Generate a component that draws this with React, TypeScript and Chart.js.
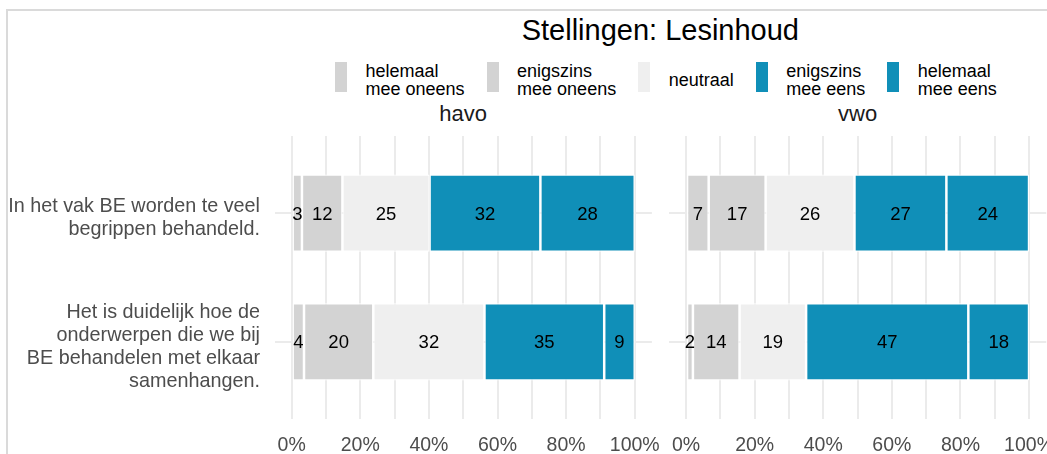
import React, { useEffect, useRef } from 'react';
import { Chart, registerables } from 'chart.js';

Chart.register(...registerables);

const FONT = "'Liberation Sans', Arial, Helvetica, sans-serif";

const chartTitle = 'Stellingen: Lesinhoud';
const facets = ['havo', 'vwo'];
const statements: string[][] = [
  ['In het vak BE worden te veel', 'begrippen behandeld.'],
  ['Het is duidelijk hoe de', 'onderwerpen die we bij', 'BE behandelen met elkaar', 'samenhangen.'],
];
const responseLevels: string[][] = [
  ['helemaal', 'mee oneens'],
  ['enigszins', 'mee oneens'],
  ['neutraal'],
  ['enigszins', 'mee eens'],
  ['helemaal', 'mee eens'],
];
const levelColors = ['#D3D3D3', '#D3D3D3', '#EFEFEF', '#108FB8', '#108FB8'];

// percentages per statement, in the order of responseLevels
const havoStatement1 = [3.0, 11.8, 25.4, 32.3, 27.5];
const havoStatement2 = [3.6, 20.2, 32.4, 34.9, 8.9];
const vwoStatement1 = [6.6, 16.6, 25.9, 26.8, 24.1];
const vwoStatement2 = [2.0, 13.6, 19.4, 47.3, 17.7];

const gridValues = [0, 10, 20, 30, 40, 50, 60, 70, 80, 90, 100];
const tickLabelValues = [0, 20, 40, 60, 80, 100];

const valueLabels = {
  id: 'valueLabels',
  afterDatasetsDraw(chart: any) {
    const ctx = chart.ctx;
    ctx.save();
    ctx.font = `18.5px ${FONT}`;
    ctx.fillStyle = '#000000';
    ctx.textAlign = 'center';
    ctx.textBaseline = 'middle';
    chart.data.datasets.forEach((ds: any, di: number) => {
      const meta = chart.getDatasetMeta(di);
      meta.data.forEach((el: any, i: number) => {
        const v = ds.data[i];
        const p = el.getProps(['x', 'base', 'y'], true);
        ctx.fillText(String(Math.round(v)), (p.x + p.base) / 2, p.y + 1.5);
      });
    });
    ctx.restore();
  },
};

function makeConfig(rows: number[][], showY: boolean, padding: any): any {
  return {
    type: 'bar',
    data: {
      labels: statements.map((_, i) => i + 1),
      datasets: responseLevels.map((lvl, j) => ({
        label: lvl.join(' '),
        data: rows.map((r) => r[j]),
        backgroundColor: levelColors[j],
        borderColor: '#FFFFFF',
        borderWidth: 1.25,
        borderSkipped: false,
        categoryPercentage: 0.6,
        barPercentage: 1,
      })),
    },
    options: {
      indexAxis: 'y',
      animation: false,
      responsive: false,
      maintainAspectRatio: false,
      layout: { padding },
      plugins: {
        legend: { display: false },
        title: { display: false },
        tooltip: { enabled: false },
      },
      scales: {
        x: {
          type: 'linear',
          stacked: true,
          min: -5,
          max: 105,
          offset: false,
          afterBuildTicks: (s: any) => {
            s.ticks = gridValues.map((v) => ({ value: v }));
          },
          afterFit: (s: any) => {
            s.height = 35;
            s.paddingLeft = 0;
            s.paddingRight = 0;
          },
          grid: { color: '#EBEBEB', lineWidth: 2, drawTicks: false, offset: false },
          border: { display: false },
          ticks: {
            autoSkip: false,
            maxRotation: 0,
            minRotation: 0,
            padding: 15,
            color: '#4D4D4D',
            font: { family: FONT, size: 19.5 },
            callback: (v: number) => (tickLabelValues.includes(v) ? `${v}%` : ''),
          },
        },
        y: {
          type: 'linear',
          stacked: true,
          reverse: true,
          min: 0.4,
          max: 2.6,
          offset: false,
          afterBuildTicks: (s: any) => {
            s.ticks = statements.map((_, i) => ({ value: i + 1 }));
          },
          afterFit: (s: any) => {
            s.width = showY ? 274.5 : 0;
            s.paddingTop = 0;
            s.paddingBottom = 0;
          },
          grid: { color: '#EBEBEB', lineWidth: 2, drawTicks: false, offset: false },
          border: { display: false },
          ticks: {
            display: showY,
            autoSkip: false,
            padding: 14.5,
            labelOffset: 5,
            crossAlign: 'near',
            color: '#4D4D4D',
            font: { family: FONT, size: 19.8, lineHeight: '23px' },
            callback: (v: number) => statements[v - 1] || '',
          },
        },
      },
    },
    plugins: [valueLabels],
  };
}

function FacetChart(props: { rows: number[][]; showY: boolean; padding: any; left: number; top: number; width: number; height: number }) {
  const ref = useRef<HTMLCanvasElement>(null);
  useEffect(() => {
    if (!ref.current) return;
    const chart = new Chart(ref.current, makeConfig(props.rows, props.showY, props.padding));
    return () => chart.destroy();
  }, []);
  return (
    <canvas
      ref={ref}
      width={props.width}
      height={props.height}
      style={{ position: 'absolute', left: props.left, top: props.top, width: props.width, height: props.height }}
    />
  );
}

export default function App() {
  return (
    <div
      style={{
        position: 'fixed',
        left: 0,
        top: 0,
        width: 1047,
        height: 454,
        overflow: 'hidden',
        background: '#FFFFFF',
        fontFamily: FONT,
      }}
    >
      <div
        style={{
          position: 'absolute',
          left: 6,
          top: 9,
          width: 1041,
          height: 445,
          borderTop: '2px solid #DADADA',
          borderLeft: '2px solid #DADADA',
          boxSizing: 'border-box',
        }}
      />
      <div
        style={{
          position: 'absolute',
          left: 274.5,
          width: 771.7,
          top: 16,
          fontSize: 29,
          lineHeight: '29px',
          textAlign: 'center',
          color: '#000000',
          whiteSpace: 'nowrap',
        }}
      >
        {chartTitle}
      </div>
      <div
        style={{
          position: 'absolute',
          left: 335,
          top: 62,
          height: 30,
          display: 'flex',
          alignItems: 'center',
          whiteSpace: 'nowrap',
        }}
      >
        {responseLevels.map((lvl, j) => (
          <div key={j} style={{ display: 'flex', alignItems: 'center', marginRight: j < responseLevels.length - 1 ? 22 : 0 }}>
            <div style={{ width: 12, height: 30, background: levelColors[j], marginRight: 18.5 }} />
            <div style={{ fontSize: 18, lineHeight: '18.5px', color: '#000000', paddingTop: 6 }}>
              {lvl.map((line, k) => (
                <div key={k}>{line}</div>
              ))}
            </div>
          </div>
        ))}
      </div>
      {facets.map((f, i) => (
        <div
          key={f}
          style={{
            position: 'absolute',
            left: i === 0 ? 274.5 : 668.9,
            width: 377.4,
            top: 103,
            fontSize: 22,
            lineHeight: '22px',
            textAlign: 'center',
            color: '#1A1A1A',
          }}
        >
          {f}
        </div>
      ))}
      <FacetChart
        rows={[havoStatement1, havoStatement2]}
        showY={true}
        padding={{ top: 10, right: 13.1, bottom: 0, left: 0 }}
        left={0}
        top={126}
        width={665}
        height={328}
      />
      <FacetChart
        rows={[vwoStatement1, vwoStatement2]}
        showY={false}
        padding={{ top: 10, right: 13.8, bottom: 0, left: 8.9 }}
        left={660}
        top={126}
        width={400}
        height={328}
      />
    </div>
  );
}
